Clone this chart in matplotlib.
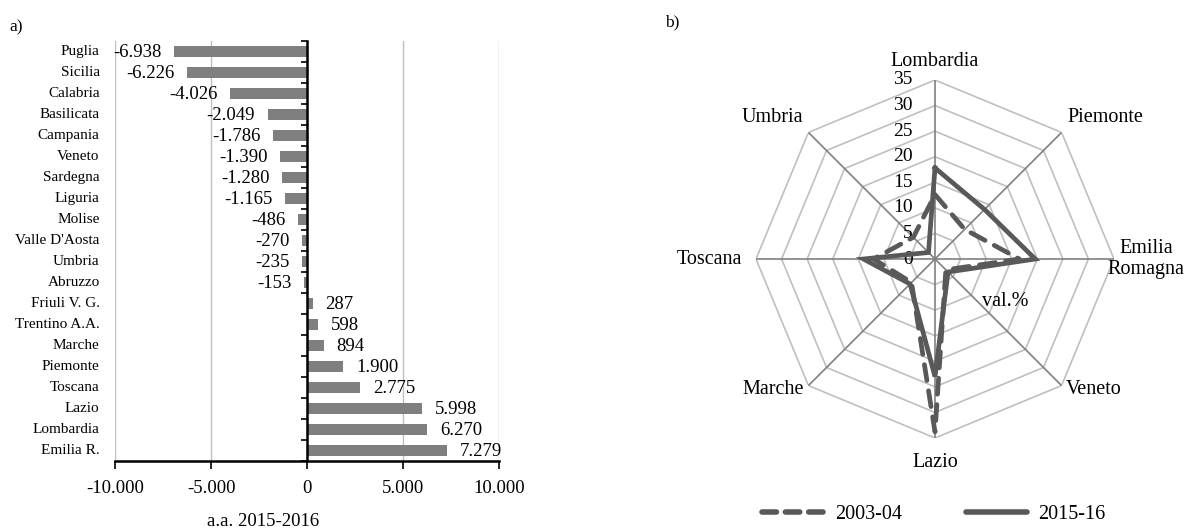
import numpy as np
import matplotlib
matplotlib.use("Agg")
import matplotlib.pyplot as plt
from matplotlib.lines import Line2D
from matplotlib.ticker import FuncFormatter

plt.rcParams['font.family'] = ['Liberation Serif', 'DejaVu Serif']

# a) variazione iscritti a.a. 2015-2016
regioni = ["Puglia", "Sicilia", "Calabria", "Basilicata", "Campania", "Veneto",
           "Sardegna", "Liguria", "Molise", "Valle D'Aosta", "Umbria", "Abruzzo",
           "Friuli V. G.", "Trentino A.A.", "Marche", "Piemonte", "Toscana",
           "Lazio", "Lombardia", "Emilia R."]
variazione = [-6938, -6226, -4026, -2049, -1786, -1390, -1280, -1165, -486, -270,
              -235, -153, 287, 598, 894, 1900, 2775, 5998, 6270, 7279]
x_ticks = [-10000, -5000, 0, 5000, 10000]

# b) radar val.%
radar_regioni = ["Lombardia", "Piemonte", "Emilia\nRomagna", "Veneto", "Lazio",
                 "Marche", "Toscana", "Umbria"]
quota_0304 = [12.6, 8.2, 16.5, 3.0, 33.8, 6.5, 12.0, 6.0]
quota_1516 = [17.8, 13.7, 19.6, 3.6, 23.0, 6.9, 14.0, 1.8]
anelli = [5, 10, 15, 20, 25, 30, 35]


def it_fmt(v):
    v = int(round(v))
    s = f"{abs(v):,}".replace(",", ".")
    return "-" + s if v < 0 else s


fig = plt.figure(figsize=(12.04, 5.31), dpi=100)

# ---- left: bar chart ----
ax = fig.add_axes([115 / 1204, 1 - 461 / 531, 384 / 1204, 420 / 531])
y = np.arange(len(regioni))
ax.barh(y, variazione, height=0.5, color="#7f7f7f", zorder=3)
ax.set_xlim(-10000, 10000)
ax.set_ylim(len(regioni) - 0.5, -0.5)
ax.set_xticks(x_ticks)
ax.xaxis.set_major_formatter(FuncFormatter(lambda v, p: it_fmt(v)))
ax.tick_params(axis="x", direction="out", length=6, width=1.2, pad=8, labelsize=13.5)
ax.grid(axis="x", color="#bfbfbf", lw=1, zorder=0)

ax.set_yticks(np.arange(-0.5, len(regioni), 1.0))
ax.set_yticklabels([])
ax.tick_params(axis="y", direction="out", length=4, width=1.2)
ax.spines["left"].set_position(("data", 0))
ax.spines["left"].set_linewidth(1.8)
ax.spines["left"].set_zorder(4)
ax.spines["bottom"].set_linewidth(1.8)
ax.spines["top"].set_visible(False)
ax.spines["right"].set_visible(False)

for yi, name, v in zip(y, regioni, variazione):
    ax.text(-0.04, yi, name, transform=ax.get_yaxis_transform(),
            ha="right", va="center", fontsize=11)
    ax.annotate(it_fmt(v), xy=(v, yi), xytext=(9 if v > 0 else -9, -1),
                textcoords="offset points", ha="left" if v > 0 else "right",
                va="center", fontsize=13.5)

fig.text(263 / 1204, 1 - 521 / 531, "a.a. 2015-2016", ha="center", va="center",
         fontsize=13.5)
fig.text(16 / 1204, 1 - 27 / 531, "a)", ha="center", va="center", fontsize=12.5)

# ---- right: radar ----
cx, cy, R = 935, 259, 179
pax = fig.add_axes([(cx - R) / 1204, (531 - cy - R) / 531, 2 * R / 1204, 2 * R / 531],
                   projection="polar")
pax.set_theta_zero_location("N")
pax.set_theta_direction(-1)
pax.set_ylim(0, 35)
pax.grid(False)
pax.spines["polar"].set_visible(False)
pax.set_xticks([])
pax.set_yticks([])

n = len(radar_regioni)
theta = np.arange(n) * 2 * np.pi / n
theta_c = np.append(theta, theta[0])

for r in anelli:
    pax.plot(theta_c, [r] * (n + 1), color="#bfbfbf", lw=1.2, zorder=1)
for t in theta:
    pax.plot([t, t], [0, 35], color="#808080", lw=1.2, zorder=2)

pax.plot(theta_c, quota_0304 + quota_0304[:1], color="#595959", lw=3.4,
         dashes=(3.4, 2.2), dash_capstyle="round", zorder=4)
pax.plot(theta_c, quota_1516 + quota_1516[:1], color="#595959", lw=3.4,
         solid_joinstyle="miter", zorder=5)

for r in [0] + anelli:
    pax.annotate(str(r), xy=(0, r), xytext=(-16, 0), textcoords="offset points",
                 ha="right", va="center", fontsize=14)

# category labels around the radar
lab_pos = [
    (0, 38.6, "center", "center"),
    (theta[1], 36.5, "left", "bottom"),
    (theta[2], 33.8, "left", "center"),
    (theta[3], 36.2, "left", "center"),
    (theta[4], 39.8, "center", "center"),
    (theta[5], 36.2, "right", "center"),
    (theta[6], 37.8, "right", "center"),
    (theta[7], 36.5, "right", "bottom"),
]
for (t, r, ha, va), name in zip(lab_pos, radar_regioni):
    pax.text(t, r, name, ha=ha, va=va, fontsize=14.5, multialignment="center",
             clip_on=False)

fig.text(1005 / 1204, 1 - 302 / 531, "val.%", ha="center", va="center", fontsize=14.5)
fig.text(672 / 1204, 1 - 22 / 531, "b)", ha="center", va="center", fontsize=12.5)

handles = [
    Line2D([], [], color="#595959", lw=4, dashes=(2.6, 1.6), dash_capstyle="round"),
    Line2D([], [], color="#595959", lw=4, solid_capstyle="round"),
]
fig.legend(handles, ["2003-04", "2015-16"], loc="center",
           bbox_to_anchor=(934 / 1204, 1 - 514 / 531), ncol=2, frameon=False,
           fontsize=14.5, handlelength=3.0, handletextpad=0.6, columnspacing=3.2)

fig.savefig("out.png", dpi=100)
